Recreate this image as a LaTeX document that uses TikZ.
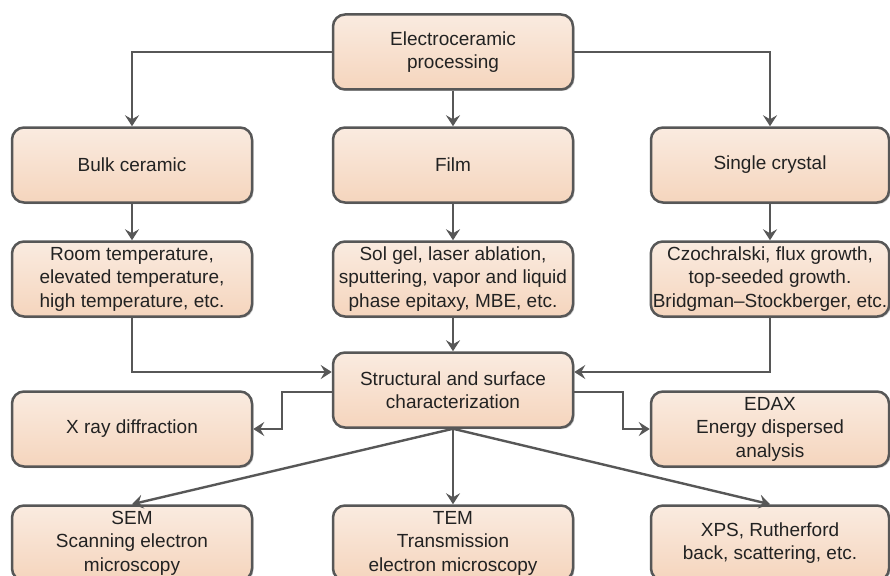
\documentclass[tikz,border=0pt]{standalone}
\usepackage{fontspec}
\setmainfont{Liberation Sans}
\usetikzlibrary{arrows.meta,shadows}
\definecolor{edge}{HTML}{575757}
\definecolor{ftop}{HTML}{FAEBE0}
\definecolor{fbot}{HTML}{F5D5BD}
\definecolor{txt}{HTML}{222222}
\tikzset{
  box/.style={draw=edge, line width=2.5pt, rounded corners=12pt,
    top color=ftop, bottom color=fbot, minimum width=240pt, minimum height=75pt,
    align=center, inner sep=2pt, text=txt,
    font=\fontsize{19}{23.5}\selectfont,
    drop shadow={shadow xshift=1.5pt, shadow yshift=-1.5pt, opacity=0.2, fill=black}},
  conn/.style={draw=edge, line width=2.4pt},
  arr/.style={conn, -{Stealth[length=11pt,width=14pt,inset=4pt]}}
}
\begin{document}
\begin{tikzpicture}[x=1pt,y=-1pt]
\clip (0,0) rectangle (890,575);
\useasboundingbox (0,0) rectangle (890,575);
\node[box] (top) at (453,52) {Electroceramic\\processing};
\node[box] (bulk) at (132,165) {Bulk ceramic};
\node[box] (film) at (453,165) {Film};
\node[box, minimum width=238pt] (single) at (770,165) {Single crystal};
\node[box] (bulkp) at (132,279) {Room temperature,\\elevated temperature,\\high temperature, etc.};
\node[box] (filmp) at (453,279) {Sol gel, laser ablation,\\sputtering, vapor and liquid\\phase epitaxy, MBE, etc.};
\node[box, minimum width=238pt] (singlep) at (770,279) {Czochralski, flux growth,\\top-seeded growth.\\Bridgman--Stockberger, etc.};
\node[box] (struct) at (453,390) {Structural and surface\\characterization};
\node[box] (xray) at (132,429) {X ray diffraction};
\node[box, minimum width=238pt] (edax) at (770,429) {EDAX\\Energy dispersed\\analysis};
\node[box] (sem) at (132,543) {SEM\\Scanning electron\\microscopy};
\node[box] (tem) at (453,543) {TEM\\Transmission\\electron microscopy};
\node[box, minimum width=238pt] (xps) at (770,543) {XPS, Rutherford\\back, scattering, etc.};

\draw[arr] (top.west) -| (bulk.north);
\draw[arr] (top.east) -| (single.north);
\draw[arr] (top.south) -- (film.north);
\draw[arr] (bulk.south) -- (bulkp.north);
\draw[arr] (film.south) -- (filmp.north);
\draw[arr] (single.south) -- (singlep.north);
\draw[arr] (bulkp.south) |- ([yshift=18pt]struct.west);
\draw[arr] (filmp.south) -- (struct.north);
\draw[arr] (singlep.south) |- ([yshift=18pt]struct.east);
\draw[arr] ([yshift=-2pt]struct.west) -- ++(-50,0) |- (xray.east);
\draw[arr] ([yshift=-2pt]struct.east) -- ++(49,0) |- (edax.west);
\draw[arr] (struct.south) -- (sem.north);
\draw[arr] (struct.south) -- (tem.north);
\draw[arr] (struct.south) -- (xps.north);
\end{tikzpicture}
\end{document}
